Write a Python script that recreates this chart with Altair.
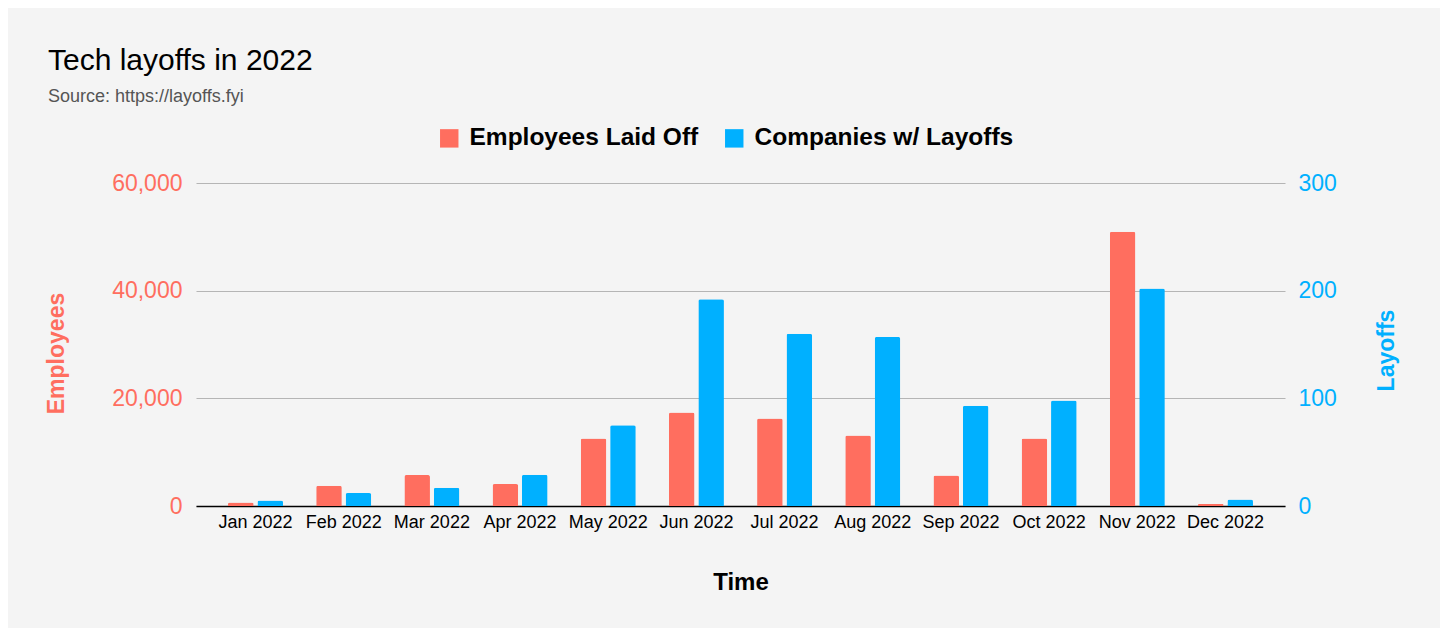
import altair as alt
import pandas as pd

months = ["Jan 2022", "Feb 2022", "Mar 2022", "Apr 2022", "May 2022", "Jun 2022",
          "Jul 2022", "Aug 2022", "Sep 2022", "Oct 2022", "Nov 2022", "Dec 2022"]
employees = [670, 3770, 5760, 4085, 12550, 17380, 16270, 13110, 5680, 12550, 50940, 370]
companies = [5, 12, 17, 29, 75, 192, 160, 157, 93, 98, 202, 6]
series_names = ["Employees Laid Off", "Companies w/ Layoffs"]
series_colors = ["#ff6e5f", "#00b0ff"]
left_ticks = [0, 20000, 40000, 60000]
right_ticks = [0, 100, 200, 300]

df = pd.DataFrame({"month": months, "employees": employees, "companies": companies})

FONT = "Liberation Sans"
RED = series_colors[0]
BLUE = series_colors[1]

x_enc = alt.X(
    "month:N", sort=months,
    scale=alt.Scale(paddingInner=0.376, paddingOuter=0.363),
    axis=alt.Axis(title="Time", labelAngle=0, labelFontSize=18, labelColor="black",
                  labelPadding=7, ticks=False, domainColor="black", domainWidth=1.5,
                  titleFontSize=24, titleFontWeight="bold", titleColor="black",
                  titleY=83, titleBaseline="alphabetic", grid=False),
)
xoff = alt.XOffset("series:N", scale=alt.Scale(domain=series_names, paddingInner=0.13, paddingOuter=0))
color = alt.Color(
    "series:N",
    scale=alt.Scale(domain=series_names, range=series_colors),
    legend=alt.Legend(orient="none", legendX=241, legendY=-57, direction="horizontal",
                      title=None, symbolType="square", symbolSize=340, symbolStrokeWidth=0,
                      symbolOpacity=1, labelFontSize=24.5, labelFontWeight="bold",
                      labelColor="black", labelOffset=8, columnPadding=23,
                      labelLimit=400, padding=0),
)

bars_emp = alt.Chart(df).transform_calculate(series="'Employees Laid Off'").mark_bar(
    cornerRadiusTopLeft=2, cornerRadiusTopRight=2
).encode(
    x=x_enc,
    xOffset=xoff,
    y=alt.Y("employees:Q",
            scale=alt.Scale(domain=[0, 60000], nice=False),
            axis=alt.Axis(title="Employees", values=left_ticks, format=",.0f",
                          labelFontSize=23, labelColor=RED, labelPadding=14,
                          ticks=False, domain=False, grid=True, gridColor="#b5b5b5",
                          gridWidth=1, titleFontSize=23, titleFontWeight="bold",
                          titleColor=RED, titleAngle=270, titleX=-133, titleY=170,
                          titleBaseline="alphabetic", titleAlign="center")),
    color=color,
)

bars_comp = alt.Chart(df).transform_calculate(series="'Companies w/ Layoffs'").mark_bar(
    cornerRadiusTopLeft=2, cornerRadiusTopRight=2
).encode(
    x=x_enc,
    xOffset=xoff,
    y=alt.Y("companies:Q",
            scale=alt.Scale(domain=[0, 300], nice=False),
            axis=alt.Axis(title="Layoffs", values=right_ticks, orient="right",
                          labelFontSize=23, labelColor=BLUE, labelPadding=13,
                          ticks=False, domain=False, grid=False,
                          titleFontSize=23, titleFontWeight="bold",
                          titleColor=BLUE, titleAngle=270, titleX=108, titleY=167,
                          titleBaseline="alphabetic", titleAlign="center")),
    color=color,
)

chart = alt.layer(bars_emp, bars_comp).resolve_scale(y="independent").properties(
    width=1089,
    height=323,
    autosize=alt.AutoSizeParams(type="none"),
    padding={"left": 188, "top": 175, "right": 155, "bottom": 122},
    background="#f4f4f4",
    title=alt.Title("Tech layoffs in 2022", subtitle="Source: https://layoffs.fyi",
                    anchor="start", frame="group", dx=-148, dy=-16, fontSize=30,
                    fontWeight="normal", color="black", subtitleFontSize=18,
                    subtitleColor="#555555", subtitlePadding=12, font=FONT,
                    subtitleFont=FONT),
).configure(font=FONT).configure_view(stroke=None)

chart.save("out.html", embed_options={"renderer": "svg", "actions": False})
